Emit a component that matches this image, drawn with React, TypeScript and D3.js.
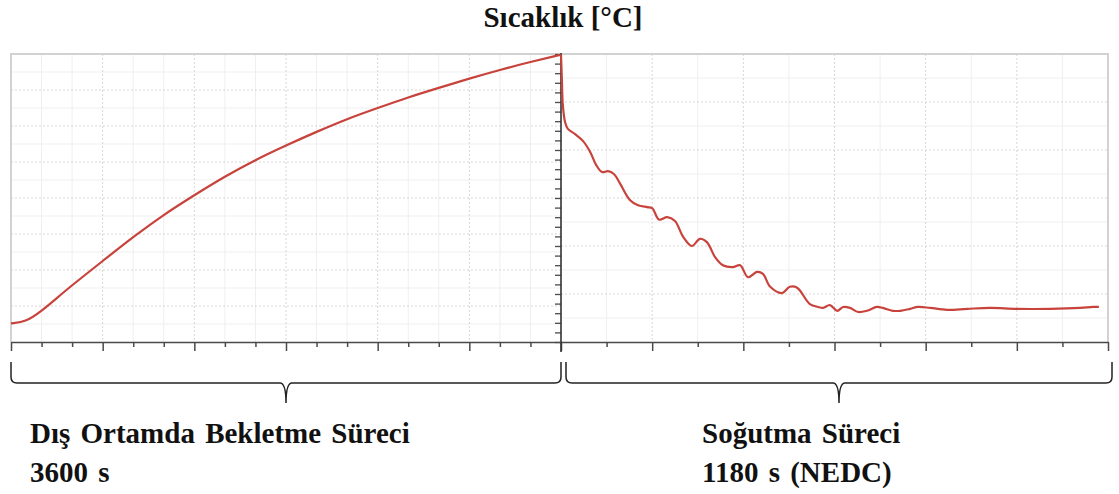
import React, { useEffect, useRef } from 'react';
import * as d3 from 'd3';

// left panel: outdoor soak, time [s] vs temperature
const soakTime = [0, 100, 200, 300, 400, 600, 800, 1000, 1200, 1400, 1600, 1800, 2000, 2200, 2400, 2600, 2800, 3000, 3200, 3400, 3600];
const soakTemp = [2.6, 2.8, 4.3, 6.1, 7.9, 11.25, 14.6, 17.7, 20.4, 23.0, 25.3, 27.3, 29.2, 31.0, 32.5, 34.0, 35.3, 36.6, 37.8, 38.9, 39.9];

// right panel: cooling (NEDC), time [s] vs temperature
const coolTime = [0, 2, 4, 9, 15, 31, 48, 64, 77, 90, 103, 116, 129, 151, 169, 189, 200, 215, 233, 250, 268, 287, 305, 320, 338, 355, 377, 393, 410, 430, 443, 459, 485, 502, 518, 546, 564, 575, 590, 606, 619, 634, 652, 671, 693, 706, 728, 744, 766, 783, 810, 847, 891, 941, 1000, 1073, 1139, 1167, 1180];
const coolTemp = [59.8, 54.6, 49.4, 45.8, 44.4, 43.3, 41.9, 39.6, 36.9, 35.4, 35.6, 35.0, 33.1, 29.6, 28.5, 28.1, 27.9, 25.5, 26.0, 25.2, 21.9, 20.0, 21.5, 20.8, 17.7, 16.0, 15.6, 16.0, 13.5, 14.6, 14.2, 11.5, 10.2, 11.5, 11.3, 7.9, 7.3, 7.1, 7.7, 6.5, 7.3, 7.1, 6.25, 6.5, 7.3, 7.1, 6.5, 6.5, 6.9, 7.3, 7.1, 6.7, 6.9, 7.1, 6.9, 6.9, 7.1, 7.3, 7.3];

const title = 'Sıcaklık [°C]';
const leftLabel = ['Dış Ortamda Bekletme Süreci', '3600 s'];
const rightLabel = ['Soğutma Süreci', '1180 s (NEDC)'];

const W = 1119, H = 494;
const top = 54, bottom = 342;
const serif = '"Liberation Serif", "Times New Roman", serif';

export default function App() {
  const ref = useRef<SVGSVGElement>(null);

  useEffect(() => {
    const svg = d3.select(ref.current);
    svg.selectAll('*').remove();

    const xL = d3.scaleLinear().domain([0, 3600]).range([11, 561]);
    const yL = d3.scaleLinear().domain([0, 40]).range([bottom, top]);
    const xR = d3.scaleLinear().domain([0, 1200]).range([561, 1108]);
    const yR = d3.scaleLinear().domain([0, 60]).range([bottom, top]);

    const g = svg.append('g');

    // minor grid
    const minor = g.append('g').attr('stroke', '#efefef').attr('stroke-width', 1);
    d3.range(200, 3600, 200).filter(t => t % 600 !== 0).forEach(t => {
      minor.append('line').attr('x1', xL(t)).attr('x2', xL(t)).attr('y1', top).attr('y2', bottom);
    });
    d3.range(2.5, 40, 5).forEach(v => {
      minor.append('line').attr('x1', 11).attr('x2', 561).attr('y1', yL(v)).attr('y2', yL(v));
    });
    d3.range(100, 1200, 200).forEach(t => {
      minor.append('line').attr('x1', xR(t)).attr('x2', xR(t)).attr('y1', top).attr('y2', bottom);
    });
    d3.range(5, 60, 10).forEach(v => {
      minor.append('line').attr('x1', 561).attr('x2', 1108).attr('y1', yR(v)).attr('y2', yR(v));
    });

    // major grid (dashed)
    const major = g.append('g').attr('stroke', '#d6d6d6').attr('stroke-width', 1).attr('stroke-dasharray', '2,2');
    d3.range(600, 3600, 600).forEach(t => {
      major.append('line').attr('x1', xL(t)).attr('x2', xL(t)).attr('y1', top).attr('y2', bottom);
    });
    d3.range(5, 40, 5).forEach(v => {
      major.append('line').attr('x1', 11).attr('x2', 561).attr('y1', yL(v)).attr('y2', yL(v));
    });
    d3.range(200, 1200, 200).forEach(t => {
      major.append('line').attr('x1', xR(t)).attr('x2', xR(t)).attr('y1', top).attr('y2', bottom);
    });
    d3.range(10, 60, 10).forEach(v => {
      major.append('line').attr('x1', 561).attr('x2', 1108).attr('y1', yR(v)).attr('y2', yR(v));
    });

    // frame
    g.append('path')
      .attr('d', `M11,${bottom}V${top}H1108V${bottom}`)
      .attr('fill', 'none').attr('stroke', '#d2d2d2').attr('stroke-width', 2);

    // bottom axis
    const axisColor = '#4a4a4a';
    const axL = d3.axisBottom(xL).tickValues(d3.range(0, 3600, 200)).tickFormat(() => '')
      .tickSize(4).tickSizeOuter(0);
    const axR = d3.axisBottom(xR).tickValues(d3.range(0, 1201, 100)).tickFormat(() => '')
      .tickSize(4).tickSizeOuter(0);
    const gl = g.append('g').attr('transform', `translate(0,${bottom})`).call(axL);
    const gr = g.append('g').attr('transform', `translate(0,${bottom})`).call(axR);
    gl.selectAll('.tick line').attr('y2', (d: any) => (d % 600 === 0 ? 9 : 5));
    gr.selectAll('.tick line').attr('y2', (d: any) => (d % 200 === 0 ? 9 : 5));
    [gl, gr].forEach(a => {
      a.selectAll('path, line').attr('stroke', axisColor).attr('stroke-width', 1.5);
    });

    // vertical axis between the two periods
    const axV = d3.axisLeft(yR).tickValues(d3.range(0, 61, 2)).tickFormat(() => '').tickSize(6).tickSizeOuter(0);
    const gv = g.append('g').attr('transform', 'translate(561,0)').call(axV);
    gv.select('.domain').remove();
    gv.selectAll('line').attr('stroke', axisColor).attr('stroke-width', 1.3);
    g.append('line').attr('x1', 561).attr('x2', 561).attr('y1', top - 1).attr('y2', bottom + 10)
      .attr('stroke', '#333').attr('stroke-width', 1.6);

    // curves
    const red = '#c8433b';
    const lineL = d3.line<number>().x((d, i) => xL(soakTime[i])).y(d => yL(d)).curve(d3.curveBasis);
    const lineR = d3.line<number>().x((d, i) => xR(coolTime[i])).y(d => yR(d)).curve(d3.curveCatmullRom.alpha(0.5));
    g.append('path').attr('d', lineL(soakTemp)).attr('fill', 'none').attr('stroke', red).attr('stroke-width', 2.2);
    g.append('path').attr('d', lineR(coolTemp)).attr('fill', 'none').attr('stroke', red).attr('stroke-width', 2.2)
      .attr('stroke-linejoin', 'round');

    // braces
    const brace = (x0: number, x1: number) => {
      const yT = 362, yB = 383, yTip = 403, xm = (x0 + x1) / 2;
      return `M${x0},${yT}L${x0},${yB - 6}Q${x0},${yB} ${x0 + 6},${yB}L${xm - 6},${yB}` +
        `Q${xm},${yB} ${xm},${yTip}Q${xm},${yB} ${xm + 6},${yB}L${x1 - 6},${yB}` +
        `Q${x1},${yB} ${x1},${yB - 6}L${x1},${yT}`;
    };
    g.append('path').attr('d', brace(xL(0), xL(3600))).attr('fill', 'none').attr('stroke', '#222').attr('stroke-width', 1.5);
    g.append('path').attr('d', brace(xR(0) + 5, xR(1200) + 4)).attr('fill', 'none').attr('stroke', '#222').attr('stroke-width', 1.5);

    // texts
    svg.append('text').attr('x', 563).attr('y', 27).attr('text-anchor', 'middle')
      .attr('font-family', serif).attr('font-weight', 'bold').attr('font-size', 29).attr('fill', '#111')
      .text(title);
    const label = (x: number, lines: string[]) => {
      lines.forEach((s, i) => {
        svg.append('text').attr('x', x).attr('y', 443 + i * 39)
          .attr('font-family', serif).attr('font-weight', 'bold').attr('font-size', 29).attr('fill', '#111')
          .attr('word-spacing', 3)
          .text(s);
      });
    };
    label(30, leftLabel);
    label(702, rightLabel);
  }, []);

  return (
    <svg ref={ref} width={W} height={H}
      style={{ position: 'absolute', left: 0, top: 0, background: '#fff' }} />
  );
}
